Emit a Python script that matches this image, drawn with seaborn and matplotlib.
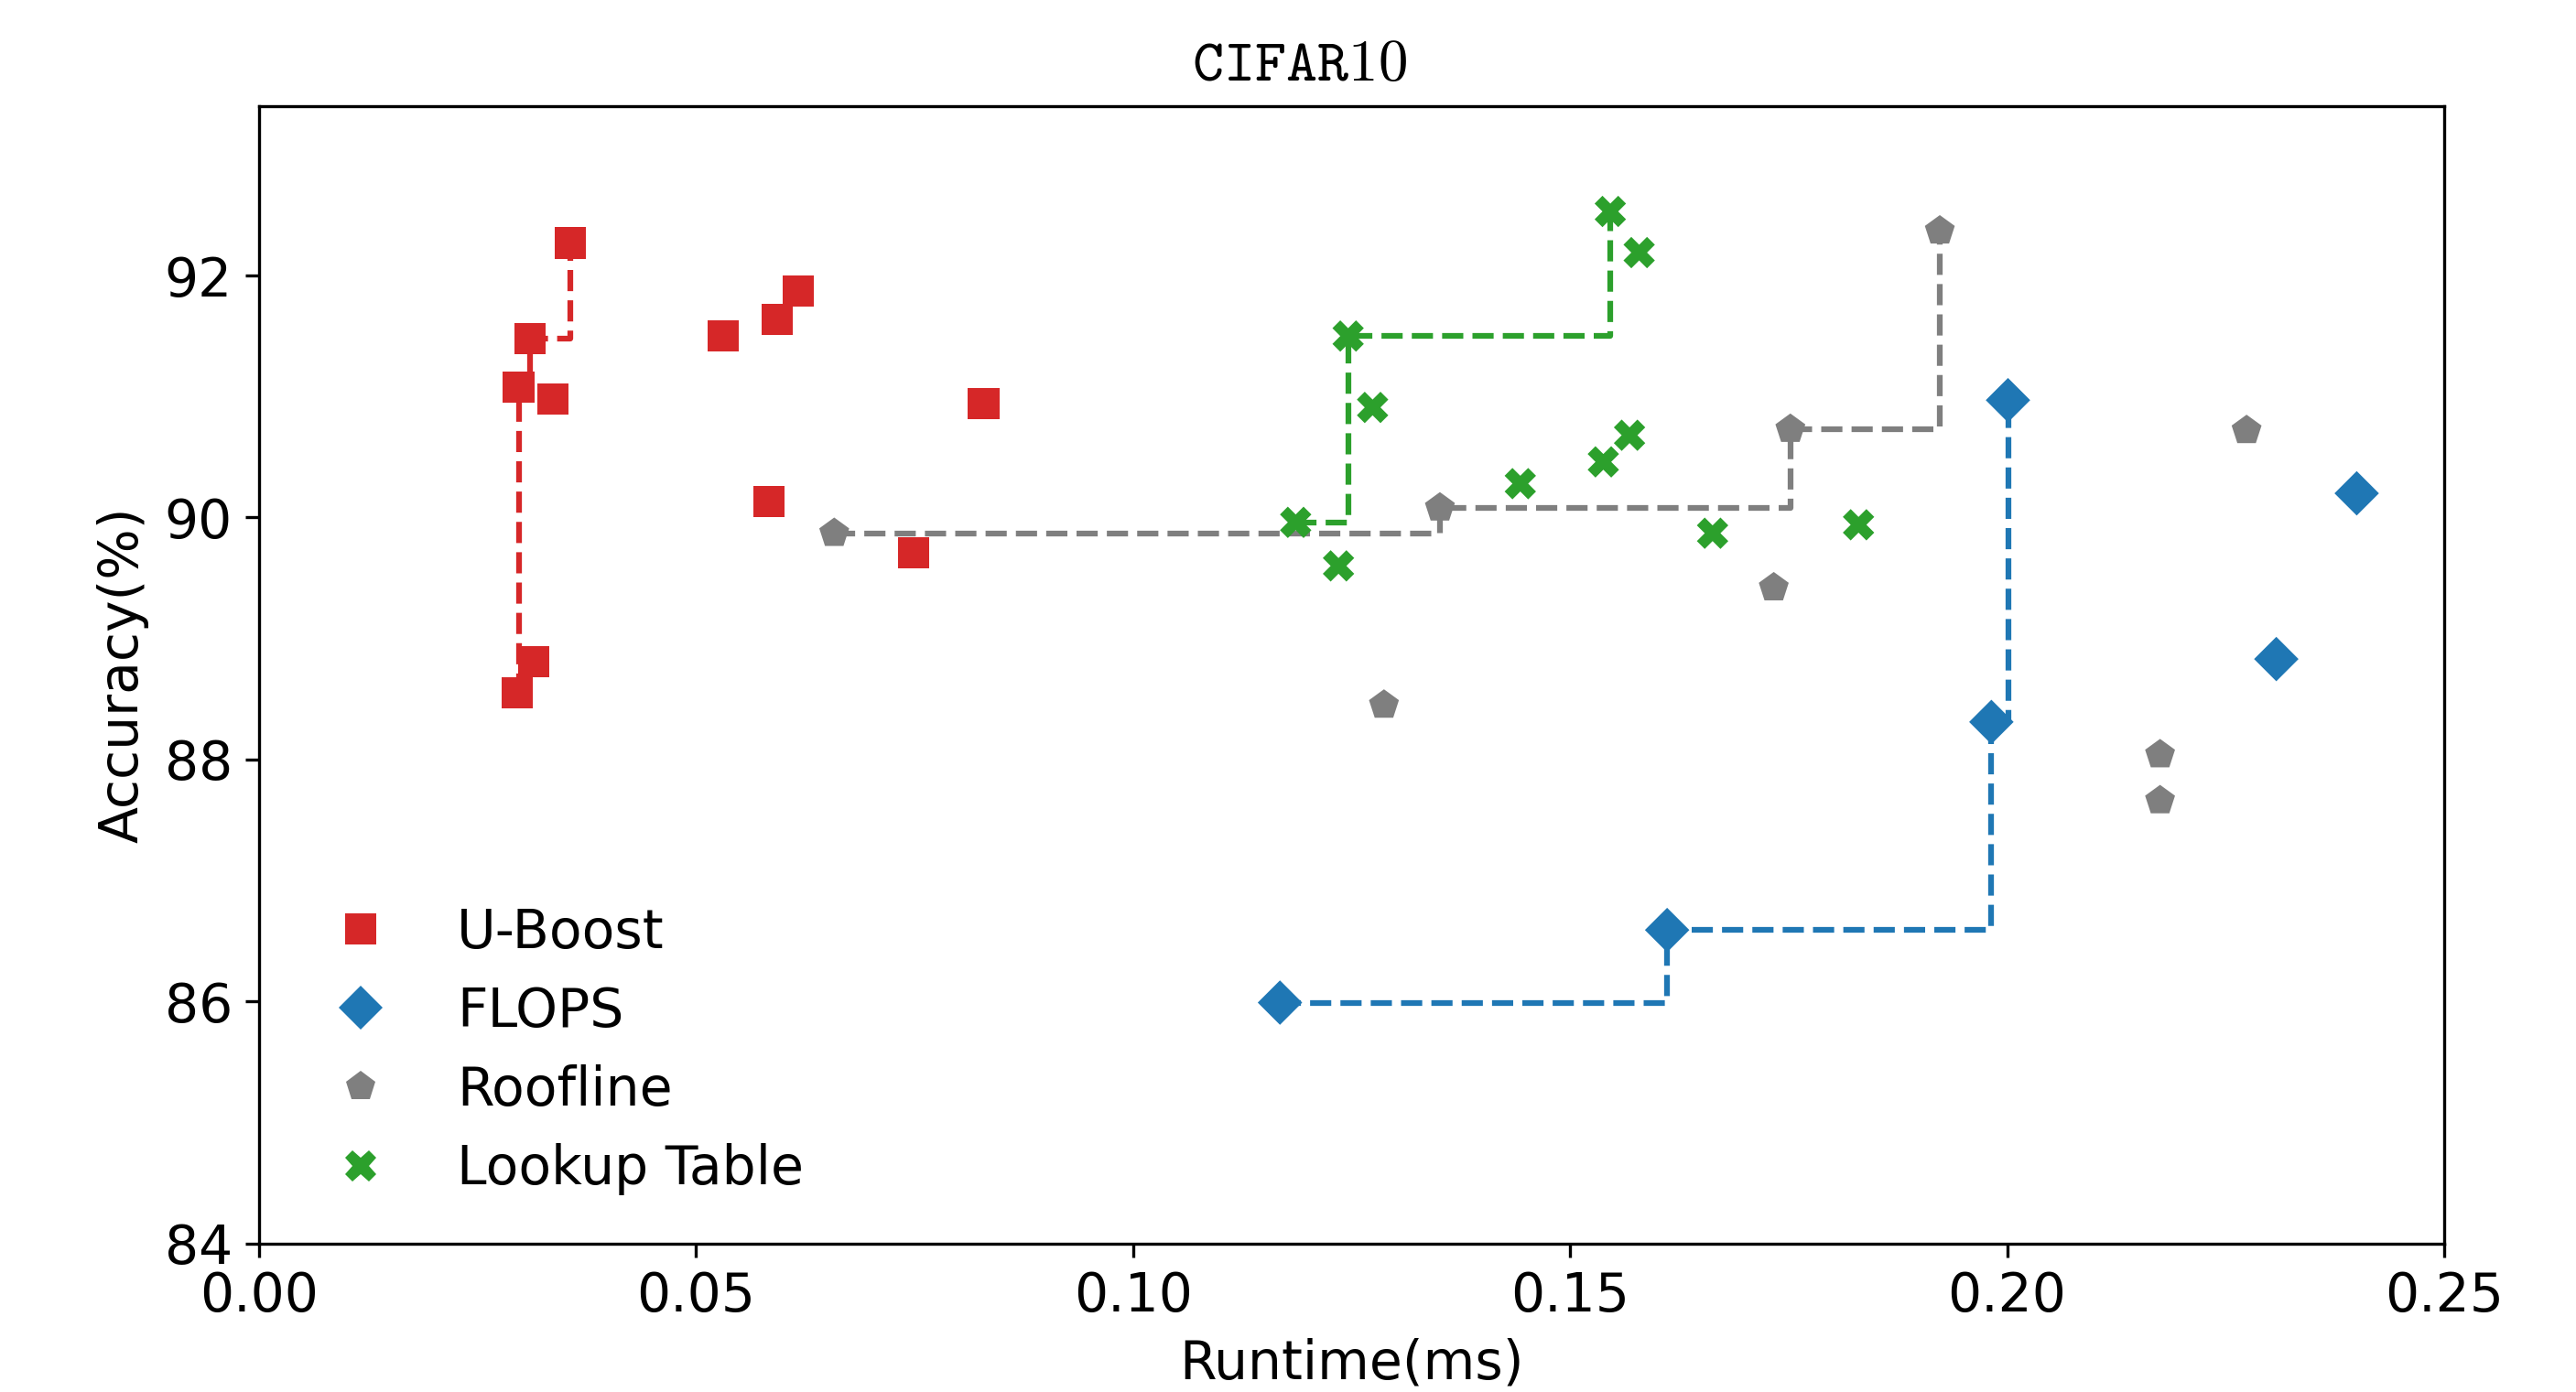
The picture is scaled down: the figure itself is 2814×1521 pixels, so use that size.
import matplotlib
matplotlib.use('Agg')
import matplotlib.pyplot as plt
import numpy as np
import pandas as pd
import seaborn as sns

# Runtime (ms) and accuracy (%), one pair of arrays per method
UBOOST_RUNTIME = [0.0295, 0.0297, 0.0310, 0.0314, 0.0336, 0.0356, 0.0531, 0.0583, 0.0593, 0.0617, 0.0749, 0.0829]
UBOOST_ACC = [88.55, 91.08, 91.48, 88.81, 90.98, 92.27, 91.50, 90.13, 91.64, 91.87, 89.71, 90.94]

FLOPS_RUNTIME = [0.1168, 0.1611, 0.1982, 0.2001, 0.2308, 0.2400]
FLOPS_ACC = [85.99, 86.59, 88.31, 90.97, 88.83, 90.20]

ROOFLINE_RUNTIME = [0.0658, 0.1287, 0.1351, 0.1733, 0.1752, 0.1923, 0.2175, 0.2175, 0.2274]
ROOFLINE_ACC = [89.87, 88.45, 90.08, 89.42, 90.73, 92.37, 88.04, 87.66, 90.72]

LOOKUP_RUNTIME = [0.1186, 0.1235, 0.1246, 0.1274, 0.1443, 0.1538, 0.1546, 0.1568, 0.1579, 0.1663, 0.1830]
LOOKUP_ACC = [89.96, 89.60, 91.50, 90.91, 90.28, 90.46, 92.53, 90.68, 92.19, 89.87, 89.94]

METHODS = ['U-Boost', 'FLOPS', 'Roofline', 'Lookup Table']
COLORS = {'U-Boost': '#d62728', 'FLOPS': '#1f77b4', 'Roofline': '#7f7f7f', 'Lookup Table': '#2ca02c'}
MARKERS = {'U-Boost': 's', 'FLOPS': 'D', 'Roofline': 'p', 'Lookup Table': 'X'}


# Keeps the points that beat every faster point on accuracy.
def pareto_front(df):
    df = df.sort_values('runtime')
    keep = df['acc'] > df['acc'].cummax().shift(fill_value=-np.inf)
    return df[keep]


frames = []
for name, xs, ys in [('U-Boost', UBOOST_RUNTIME, UBOOST_ACC),
                     ('FLOPS', FLOPS_RUNTIME, FLOPS_ACC),
                     ('Roofline', ROOFLINE_RUNTIME, ROOFLINE_ACC),
                     ('Lookup Table', LOOKUP_RUNTIME, LOOKUP_ACC)]:
    frames.append(pd.DataFrame({'runtime': xs, 'acc': ys, 'method': name}))
data = pd.concat(frames, ignore_index=True)

plt.rcParams['mathtext.fontset'] = 'cm'
fig, ax = plt.subplots(figsize=(2814 / 300, 1521 / 300), dpi=300)
fig.subplots_adjust(left=0.1006, right=0.9488, top=0.9237, bottom=0.1068)

for name in METHODS:
    front = pareto_front(data[data['method'] == name])
    sns.lineplot(data=front, x='runtime', y='acc', ax=ax, color=COLORS[name],
                 linestyle='--', linewidth=1.5, drawstyle='steps-post',
                 estimator=None, legend=False, zorder=1)

sns.scatterplot(data=data, x='runtime', y='acc', hue='method', style='method',
                hue_order=METHODS, style_order=METHODS, palette=COLORS,
                markers=MARKERS, s=68, linewidth=0, ax=ax, zorder=2)

ax.set_xlim(0, 0.25)
ax.set_ylim(84, 93.4)
ax.set_yticks([84, 86, 88, 90, 92])
ax.tick_params(labelsize=14)
ax.set_xlabel('Runtime(ms)', fontsize=14)
ax.set_ylabel('Accuracy(%)', fontsize=14)
fig.text(0.5043, 0.942, r'$\mathtt{CIFAR10}$', fontsize=15.6, ha='center', va='baseline')
ax.legend(loc='lower left', frameon=False, fontsize=14)

fig.savefig('out.png', dpi=300)
